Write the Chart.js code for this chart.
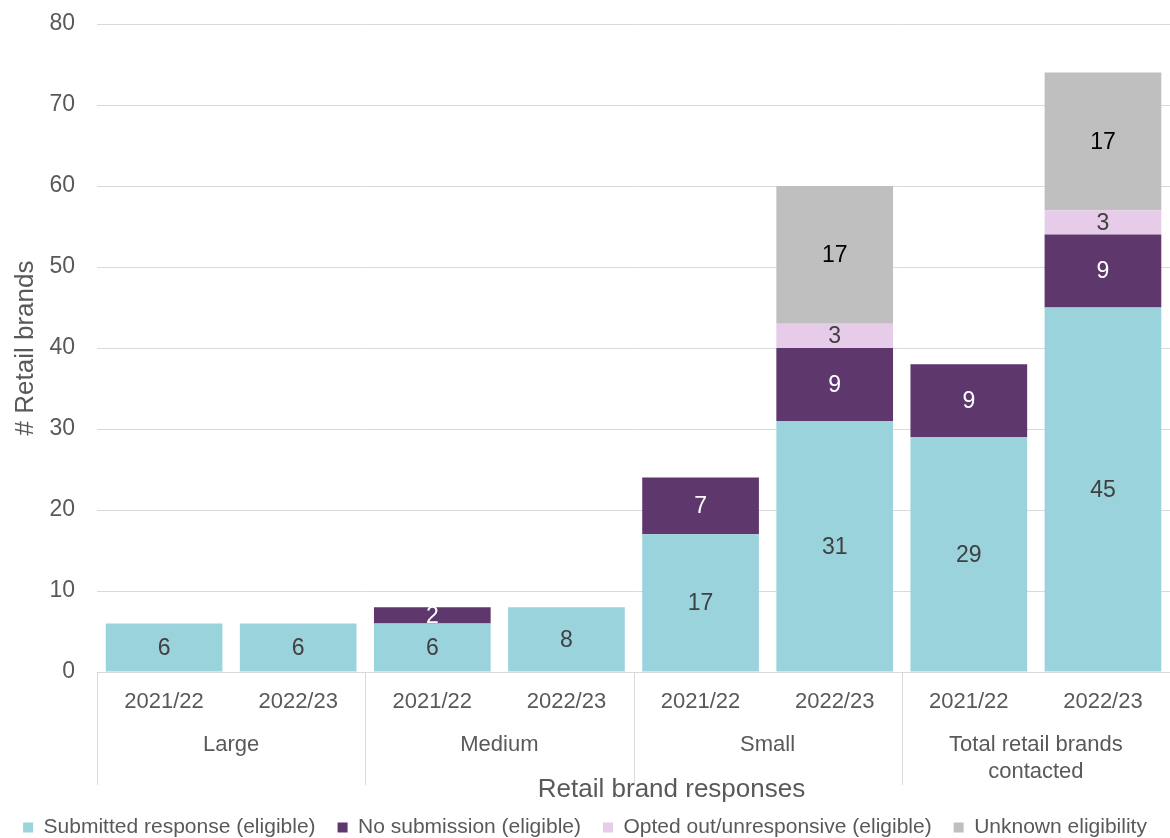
<!DOCTYPE html>
<html>
<head>
<meta charset="utf-8">
<script src="https://cdn.jsdelivr.net/npm/chart.js@4/dist/chart.umd.min.js"></script>
<style>
  html, body { margin: 0; padding: 0; background: #fff; }
  #wrap { width: 1170px; height: 838px; }
</style>
</head>
<body>
<div id="wrap"><canvas id="chart"></canvas></div>
<script>
const years = ['2021/22', '2022/23', '2021/22', '2022/23', '2021/22', '2022/23', '2021/22', '2022/23'];
const groups = [['Large'], ['Medium'], ['Small'], ['Total retail brands', 'contacted']];
const xTitle = 'Retail brand responses';

const submitted    = [6, 6, 6, 8, 17, 31, 29, 45];
const noSubmission = [null, null, 2, null, 7, 9, 9, 9];
const optedOut     = [null, null, null, null, null, 3, null, 3];
const unknown      = [null, null, null, null, null, 17, null, 17];

const yTicks = [0, 10, 20, 30, 40, 50, 60, 70, 80];

const FONT = 'Liberation Sans, Arial, sans-serif';
const GREY_TEXT = '#595959';

// value labels in the middle of each stacked segment
const segmentLabels = {
  id: 'segmentLabels',
  afterDatasetsDraw(chart) {
    const ctx = chart.ctx;
    ctx.save();
    ctx.font = `23px ${FONT}`;
    ctx.textAlign = 'center';
    ctx.textBaseline = 'middle';
    chart.data.datasets.forEach((ds, di) => {
      const meta = chart.getDatasetMeta(di);
      meta.data.forEach((bar, i) => {
        const v = ds.data[i];
        if (v == null) return;
        ctx.fillStyle = ds.labelColor;
        ctx.fillText(String(v), bar.x, (bar.y + bar.base) / 2 + 1);
      });
    });
    ctx.restore();
  }
};

// group names, separators and axis title under the year ticks
const groupAxis = {
  id: 'groupAxis',
  afterDraw(chart) {
    const ctx = chart.ctx;
    const x = chart.scales.x;
    const top = chart.chartArea.bottom;
    const half = (x.getPixelForValue(1) - x.getPixelForValue(0)) / 2;
    ctx.save();
    ctx.strokeStyle = '#D9D9D9';
    ctx.lineWidth = 1;
    for (let g = 0; g < groups.length; g++) {
      const left = Math.round(x.getPixelForValue(g * 2) - half) + 0.5;
      ctx.beginPath();
      ctx.moveTo(left, top);
      ctx.lineTo(left, top + 113);
      ctx.stroke();
    }
    ctx.fillStyle = GREY_TEXT;
    ctx.font = `22px ${FONT}`;
    ctx.textAlign = 'center';
    ctx.textBaseline = 'middle';
    groups.forEach((lines, g) => {
      const cx = (x.getPixelForValue(g * 2) + x.getPixelForValue(g * 2 + 1)) / 2;
      lines.forEach((t, k) => ctx.fillText(t, cx, top + 73 + k * 27));
    });
    ctx.font = `26px ${FONT}`;
    ctx.fillText(xTitle, (x.getPixelForValue(3) + x.getPixelForValue(4)) / 2 + 38, top + 118);
    ctx.restore();
  }
};

new Chart(document.getElementById('chart'), {
  type: 'bar',
  data: {
    labels: years,
    datasets: [
      { label: 'Submitted response (eligible)', data: submitted, backgroundColor: '#9BD3DD', labelColor: '#404040' },
      { label: 'No submission (eligible)', data: noSubmission, backgroundColor: '#5E376D', labelColor: '#FFFFFF' },
      { label: 'Opted out/unresponsive (eligible)', data: optedOut, backgroundColor: '#E6CCE8', labelColor: '#404040' },
      { label: 'Unknown eligibility', data: unknown, backgroundColor: '#BFBFBF', labelColor: '#000000' }
    ]
  },
  options: {
    responsive: true,
    maintainAspectRatio: false,
    animation: false,
    devicePixelRatio: 1,
    datasets: { bar: { barPercentage: 0.87, categoryPercentage: 1, borderWidth: 0 } },
    layout: { padding: { top: 24, right: 0, left: 0, bottom: -10 } },
    plugins: {
      legend: {
        position: 'bottom',
        labels: {
          color: GREY_TEXT,
          font: { family: FONT, size: 21 },
          boxWidth: 10, boxHeight: 10, padding: 22
        }
      },
      tooltip: { enabled: false }
    },
    scales: {
      x: {
        stacked: true,
        grid: { display: false },
        border: { color: '#D9D9D9' },
        ticks: { color: GREY_TEXT, font: { family: FONT, size: 22 }, padding: 9, maxRotation: 0 },
        afterFit(scale) { scale.height = 123; }
      },
      y: {
        stacked: true,
        min: 0, max: 80,
        afterBuildTicks(scale) { scale.ticks = yTicks.map(v => ({ value: v })); },
        grid: { color: '#D9D9D9', drawTicks: false },
        border: { display: false },
        ticks: { color: GREY_TEXT, font: { family: FONT, size: 23 }, padding: 22 },
        title: {
          display: true, text: '# Retail brands', color: GREY_TEXT,
          font: { family: FONT, size: 26 }, padding: { top: 10, bottom: 0 }
        },
        afterFit(scale) {
          scale.width = 97;
          scale.paddingTop = 0;
          scale.paddingBottom = 0;
        }
      }
    }
  },
  plugins: [segmentLabels, groupAxis]
});
</script>
</body>
</html>
